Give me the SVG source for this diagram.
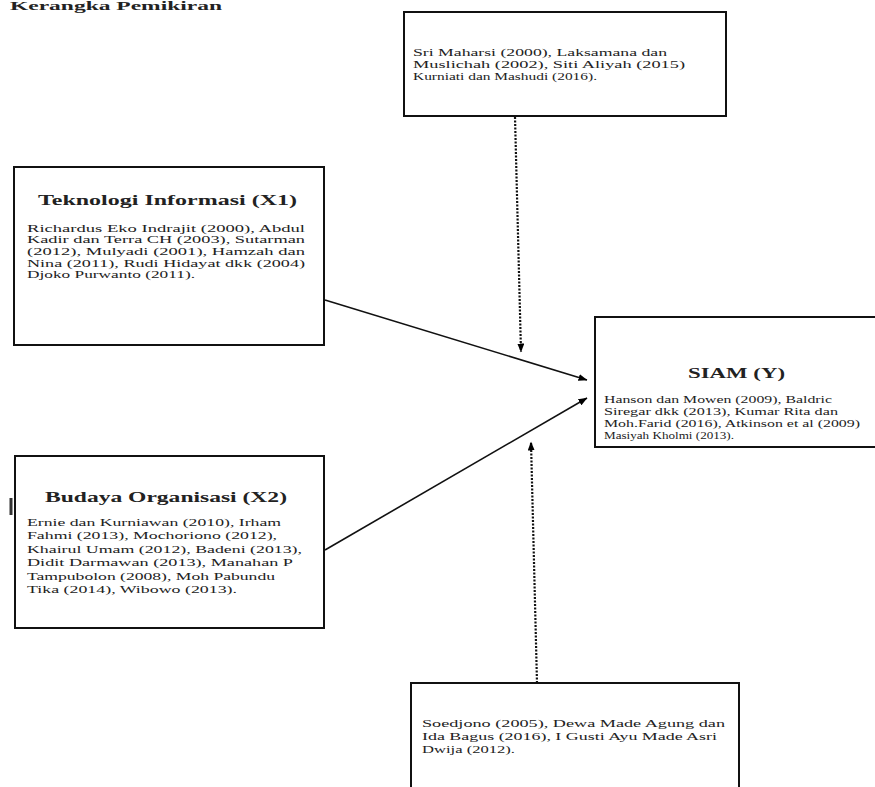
<svg xmlns="http://www.w3.org/2000/svg" width="875" height="787" viewBox="0 0 875 787">
<defs>
<marker id="ah" markerUnits="userSpaceOnUse" markerWidth="9" markerHeight="7" refX="8.5" refY="3.5" orient="auto">
<path d="M0,0 L9,3.5 L0,7 z" fill="#000"/>
</marker>
</defs>
<style>
.box{fill:#fff;stroke:#111;stroke-width:2}
.t{font-family:"Liberation Serif","Times New Roman",serif;font-size:11px;fill:#222}
.h{font-family:"Liberation Serif","Times New Roman",serif;font-size:15px;font-weight:bold;fill:#222}
.c{stroke:#111;stroke-width:1.6;fill:none}
.d{stroke:#111;stroke-width:2.2;fill:none;stroke-dasharray:2 1.5}
</style>
<rect width="875" height="787" fill="#fff"/>
<text x="10" y="10" font-family="Liberation Serif, serif" font-size="12" font-weight="bold" fill="#222" textLength="212" lengthAdjust="spacingAndGlyphs">Kerangka Pemikiran</text>

<g id="top-ref">
<rect class="box" x="404" y="12" width="322" height="104"/>
<text class="t" x="413" y="55.5" textLength="254" lengthAdjust="spacingAndGlyphs">Sri Maharsi (2000), Laksamana dan</text>
<text class="t" x="413" y="67.5" textLength="272" lengthAdjust="spacingAndGlyphs">Muslichah (2002), Siti Aliyah (2015)</text>
<text class="t" x="413" y="79.5" textLength="184" lengthAdjust="spacingAndGlyphs">Kurniati dan Mashudi (2016).</text>
</g>

<g id="x1">
<rect class="box" x="14" y="167" width="310" height="178"/>
<text class="h" x="38" y="205" textLength="259" lengthAdjust="spacingAndGlyphs">Teknologi Informasi (X1)</text>
<text class="t" x="27" y="231.5" textLength="278" lengthAdjust="spacingAndGlyphs">Richardus Eko Indrajit (2000), Abdul</text>
<text class="t" x="27" y="243" textLength="278" lengthAdjust="spacingAndGlyphs">Kadir dan Terra CH (2003), Sutarman</text>
<text class="t" x="27" y="255" textLength="278" lengthAdjust="spacingAndGlyphs">(2012), Mulyadi (2001), Hamzah dan</text>
<text class="t" x="27" y="266.5" textLength="278" lengthAdjust="spacingAndGlyphs">Nina (2011), Rudi Hidayat dkk (2004)</text>
<text class="t" x="27" y="278" textLength="168" lengthAdjust="spacingAndGlyphs">Djoko Purwanto (2011).</text>
</g>

<g id="x2">
<rect x="9.5" y="498" width="3" height="17" fill="#333"/>
<rect class="box" x="15" y="456" width="309" height="172"/>
<text class="h" x="45" y="502" textLength="242" lengthAdjust="spacingAndGlyphs">Budaya Organisasi (X2)</text>
<text class="t" x="27" y="526" textLength="254" lengthAdjust="spacingAndGlyphs">Ernie dan Kurniawan (2010), Irham</text>
<text class="t" x="27" y="539" textLength="250" lengthAdjust="spacingAndGlyphs">Fahmi (2013), Mochoriono (2012),</text>
<text class="t" x="27" y="552.5" textLength="275" lengthAdjust="spacingAndGlyphs">Khairul Umam (2012), Badeni (2013),</text>
<text class="t" x="27" y="566" textLength="266" lengthAdjust="spacingAndGlyphs">Didit Darmawan (2013), Manahan P</text>
<text class="t" x="27" y="579.5" textLength="248" lengthAdjust="spacingAndGlyphs">Tampubolon (2008), Moh Pabundu</text>
<text class="t" x="27" y="593" textLength="210" lengthAdjust="spacingAndGlyphs">Tika (2014), Wibowo (2013).</text>
</g>

<g id="y">
<rect class="box" x="595" y="317" width="300" height="130"/>
<text class="h" x="688" y="378" textLength="97" lengthAdjust="spacingAndGlyphs">SIAM (Y)</text>
<text class="t" x="604" y="403" textLength="228" lengthAdjust="spacingAndGlyphs">Hanson dan Mowen (2009), Baldric</text>
<text class="t" x="604" y="415" textLength="234" lengthAdjust="spacingAndGlyphs">Siregar dkk (2013), Kumar Rita dan</text>
<text class="t" x="604" y="427" textLength="256" lengthAdjust="spacingAndGlyphs">Moh.Farid (2016), Atkinson et al (2009)</text>
<text class="t" x="604" y="439" textLength="130" lengthAdjust="spacingAndGlyphs">Masiyah Kholmi (2013).</text>
</g>

<g id="bottom-ref">
<rect class="box" x="411" y="683" width="328" height="120"/>
<text class="t" x="422" y="727" textLength="303" lengthAdjust="spacingAndGlyphs">Soedjono (2005), Dewa Made Agung dan</text>
<text class="t" x="422" y="740" textLength="295" lengthAdjust="spacingAndGlyphs">Ida Bagus (2016), I Gusti Ayu Made Asri</text>
<text class="t" x="422" y="752.5" textLength="93" lengthAdjust="spacingAndGlyphs">Dwija (2012).</text>
</g>

<g id="connectors">
<line class="c" x1="325" y1="300" x2="587" y2="380" marker-end="url(#ah)"/>
<line class="c" x1="325" y1="550" x2="587" y2="398" marker-end="url(#ah)"/>
<line class="d" x1="515" y1="117" x2="521" y2="352" marker-end="url(#ah)"/>
<line class="d" x1="537" y1="683" x2="531" y2="442" marker-end="url(#ah)"/>
</g>
</svg>
